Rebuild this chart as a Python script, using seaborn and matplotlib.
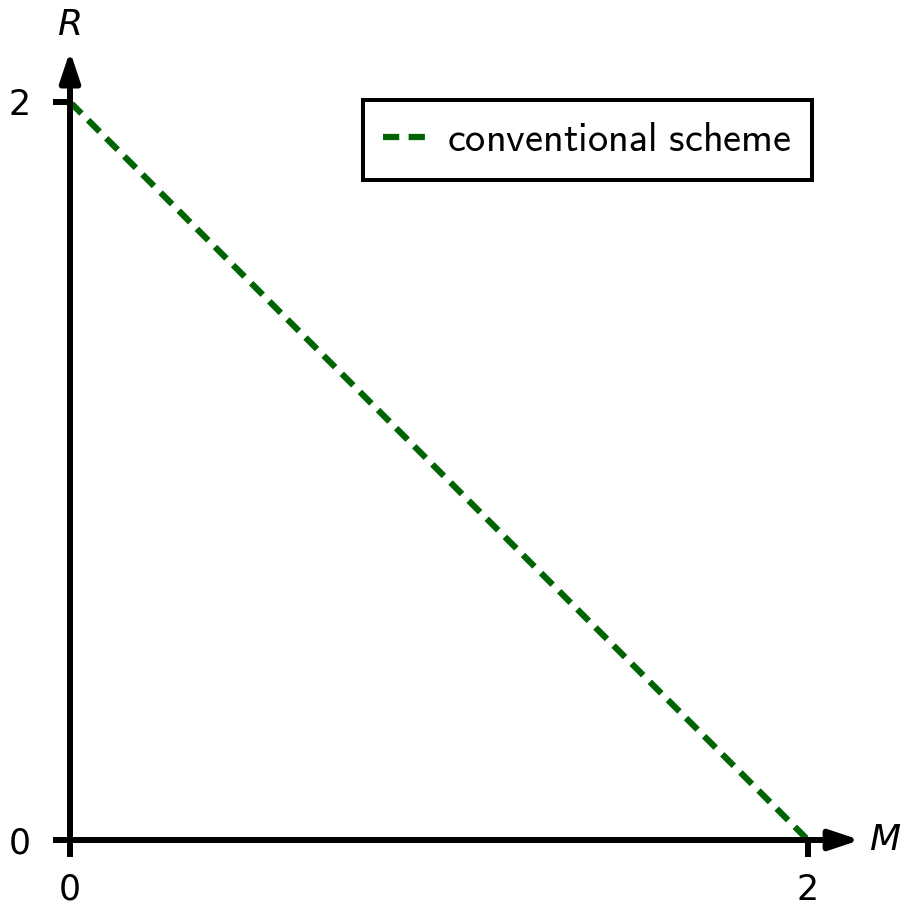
import matplotlib
matplotlib.use("Agg")
import matplotlib.pyplot as plt
import seaborn as sns
import pandas as pd

# Trade-off between M and R for the conventional scheme
m_values = [0, 2]
r_values = [2, 0]
series_label = "conventional scheme"
x_ticks = [0, 2]
y_ticks = [0, 2]

sns.set_style("white")
plt.rcParams["mathtext.fontset"] = "cm"
plt.rcParams["font.family"] = ["DejaVu Sans"]
plt.rcParams.update({"text.color": "black", "xtick.color": "black",
                     "ytick.color": "black", "axes.labelcolor": "black"})

df = pd.DataFrame({"M": m_values, "R": r_values, "scheme": series_label})

fig = plt.figure(figsize=(9.1, 9.09), dpi=100)
ax = fig.add_axes([70 / 910, 69 / 909, 738 / 910, 738 / 909])

sns.lineplot(data=df, x="M", y="R", ax=ax, color="#006400", linewidth=4.5,
             label=r"$\mathsf{conventional\ scheme}$")
ax.lines[0].set_dashes([2.6, 1.5])

ax.set_xlim(0, 2)
ax.set_ylim(0, 2)
ax.set_xticks(x_ticks)
ax.set_yticks(y_ticks)
ax.set_xticklabels([str(t) for t in x_ticks], fontsize=25, color="black")
ax.set_yticklabels([str(t) for t in y_ticks], fontsize=25, color="black")
ax.tick_params(axis="both", direction="out", length=12.5, width=4.3,
               color="black", labelcolor="black", left=True, bottom=True)
ax.tick_params(axis="x", pad=11)
ax.tick_params(axis="y", pad=16)
ax.set_xlabel("")
ax.set_ylabel("")
for sp in ax.spines.values():
    sp.set_visible(False)

# Axis arrows
arrow_kw = dict(arrowstyle="-|>,head_length=0.9,head_width=0.3",
                color="black", lw=4.3, shrinkA=0, shrinkB=0,
                mutation_scale=20)
ax.annotate("", xy=(2.141, 0), xytext=(0, 0), xycoords="data",
            arrowprops=arrow_kw, annotation_clip=False)
ax.annotate("", xy=(0, 2.138), xytext=(0, 0), xycoords="data",
            arrowprops=arrow_kw, annotation_clip=False)

ax.text(2.165, 0, "M", fontsize=26, style="italic", ha="left", va="center",
        color="black", clip_on=False)
ax.text(0, 2.208, "R", fontsize=26, style="italic", ha="center", va="center",
        color="black", clip_on=False)

leg = ax.legend(loc="upper right", bbox_to_anchor=(1.0054, 1.0027),
                borderaxespad=0, fontsize=29, fancybox=False, frameon=True,
                framealpha=1, handlelength=1.05, handletextpad=0.55,
                borderpad=0.5)
leg.get_frame().set_edgecolor("black")
leg.get_frame().set_linewidth(2.9)
for t in leg.get_texts():
    t.set_color("black")

fig.savefig("out.png", dpi=100)
